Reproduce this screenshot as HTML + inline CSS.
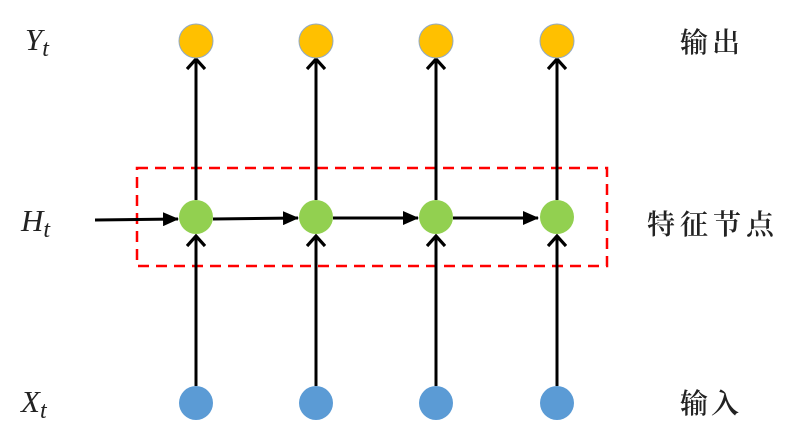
<!DOCTYPE html>
<html><head><meta charset="utf-8"><style>
html,body{margin:0;padding:0;background:#fff;}
svg{display:block;}
.cj{font-family:"Liberation Serif","Noto Serif CJK SC",serif;font-size:28px;fill:#222;font-weight:600;}
.m{font-family:"Liberation Serif",serif;font-style:italic;fill:#222;}
</style></head><body>
<svg width="786" height="441" viewBox="0 0 786 441" xmlns="http://www.w3.org/2000/svg">
<defs>
<marker id="open" markerWidth="16" markerHeight="20" refX="12" refY="10" orient="auto" markerUnits="userSpaceOnUse">
<path d="M2,1 L12,10 L2,19" fill="none" stroke="#000" stroke-width="3.2"/>
</marker>
<marker id="fill" markerWidth="16" markerHeight="14" refX="15" refY="7" orient="auto" markerUnits="userSpaceOnUse">
<path d="M0,0 L16,7 L0,14 Z" fill="#000"/>
</marker>
</defs>
<rect x="137" y="168" width="470" height="98" fill="none" stroke="#f00" stroke-width="2.5" stroke-dasharray="11,7"/>
<g stroke="#000" stroke-width="3">
<line x1="95" y1="220" x2="178" y2="219" marker-end="url(#fill)"/>
<line x1="213" y1="219" x2="298" y2="218" marker-end="url(#fill)"/>
<line x1="333" y1="218" x2="418" y2="218" marker-end="url(#fill)"/>
<line x1="453" y1="218" x2="538" y2="218" marker-end="url(#fill)"/>
</g>
<g stroke="#000" stroke-width="3">
<line x1="196" y1="386" x2="196" y2="236" marker-end="url(#open)"/>
<line x1="196" y1="200" x2="196" y2="59" marker-end="url(#open)"/>
<line x1="316" y1="386" x2="316" y2="236" marker-end="url(#open)"/>
<line x1="316" y1="200" x2="316" y2="59" marker-end="url(#open)"/>
<line x1="436" y1="386" x2="436" y2="236" marker-end="url(#open)"/>
<line x1="436" y1="200" x2="436" y2="59" marker-end="url(#open)"/>
<line x1="557" y1="386" x2="557" y2="236" marker-end="url(#open)"/>
<line x1="557" y1="200" x2="557" y2="59" marker-end="url(#open)"/>
</g>
<g fill="#ffc000" stroke="#8fa9c8" stroke-width="1">
<circle cx="196" cy="41" r="17"/><circle cx="316" cy="41" r="17"/><circle cx="436" cy="41" r="17"/><circle cx="557" cy="41" r="17"/>
</g>
<g fill="#92d050">
<circle cx="196" cy="217" r="17"/><circle cx="316" cy="217" r="17"/><circle cx="436" cy="217" r="17"/><circle cx="557" cy="217" r="17"/>
</g>
<g fill="#5b9bd5">
<circle cx="196" cy="403" r="17"/><circle cx="316" cy="403" r="17"/><circle cx="436" cy="403" r="17"/><circle cx="557" cy="403" r="17"/>
</g>
<text class="m" x="25" y="50" font-size="31">Y<tspan font-size="24" dy="6">t</tspan></text>
<text class="m" x="21" y="231" font-size="31">H<tspan font-size="24" dy="6">t</tspan></text>
<text class="m" x="21" y="412" font-size="31">X<tspan font-size="24" dy="6">t</tspan></text>
<text class="cj" x="680" y="52" letter-spacing="4">输出</text>
<text class="cj" x="647" y="234" letter-spacing="5">特征节点</text>
<text class="cj" x="680" y="413" letter-spacing="3">输入</text>
</svg>
</body></html>
